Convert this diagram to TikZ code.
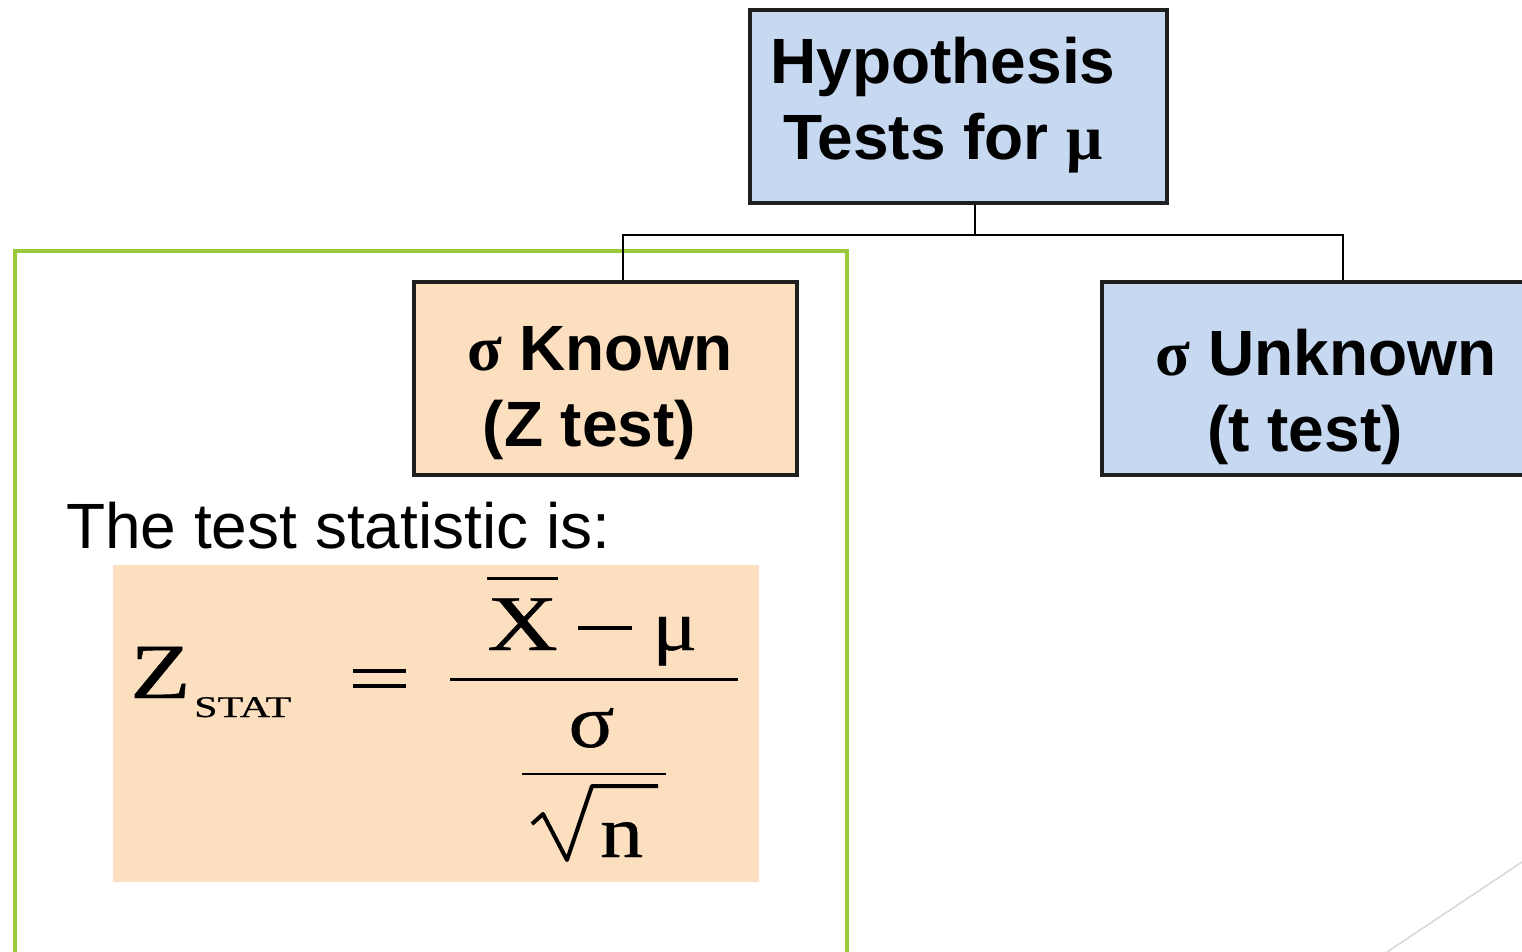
\documentclass[tikz,border=0pt]{standalone}
\usepackage{fontspec}
\usepackage{graphicx}
\setmainfont{Liberation Sans}
\newfontfamily\symfont{Liberation Serif}
\newfontfamily\formfont[FakeBold=0.5]{Liberation Serif}
\definecolor{boxblue}{RGB}{198,217,241}
\definecolor{boxpeach}{RGB}{252,223,191}
\definecolor{framegreen}{RGB}{154,202,60}
\definecolor{diaggray}{RGB}{215,215,215}
\newcommand{\wideglyph}[2][1.3]{\scalebox{#1}[1]{#2}}

\begin{document}
\begin{tikzpicture}[x=1pt, y=-1pt,
    testbox/.style={draw=black!88, line width=4pt, inner sep=0pt, minimum height=193pt},
    boxtext/.style={align=center, inner sep=0pt, font=\bfseries\fontsize{64}{76}\selectfont},
    formula/.style={anchor=base west, inner sep=0pt}]
    \useasboundingbox (0,0) rectangle (1522,952);
    \clip (0,0) rectangle (1522,952);

    % green frame round the known case
    \draw[framegreen, line width=4.5pt] (847,960) -- (847,251) -- (15,251) -- (15,960);

    % boxes
    \node[testbox, fill=boxblue, minimum width=417pt] (hyp) at (958.5,106.5) {};
    \node[testbox, fill=boxpeach, minimum width=383pt] (known) at (605.5,378.5) {};
    \node[testbox, fill=boxblue, minimum width=440pt] (unknown) at (1322,378.5) {};

    \node[boxtext] (hyptext) at (943,105) {Hypothesis\\Tests for {\symfont μ}};
    \node[boxtext] (knowntext) at (600,393.5) {{\symfont σ} Known\\(Z test)\hspace*{21pt}};
    \node[boxtext] (unknowntext) at (1326,396.5) {{\symfont σ} Unknown\\(t test)\hspace*{42pt}};

    % tree lines
    \coordinate (split) at (975,235);
    \coordinate (lknee) at (623,235);
    \coordinate (rknee) at (1343,235);
    \draw[line width=2pt] (hyp.south -| split) -- (split);
    \draw[line width=2pt] (known.north -| lknee) -- (lknee) -- (rknee) -- (unknown.north -| rknee);

    % test statistic
    \node[anchor=base west, inner sep=0pt, font=\fontsize{64}{76}\selectfont] (statlabel) at (66,548) {The test statistic is:};
    \fill[boxpeach] (113,565) rectangle (759,882);

    \node[formula, font=\formfont\fontsize{78}{78}\selectfont] (zsym) at (130,698) {\wideglyph[1.27]{Z}};
    \node[formula, font=\formfont\fontsize{30}{30}\selectfont] (statsub) at (194,717) {\wideglyph[1.4]{STAT}};
    \draw[line width=4pt] (353,671) -- (406,671);
    \draw[line width=4pt] (353,686) -- (406,686);
    \node[formula, font=\formfont\fontsize{79}{79}\selectfont] (xsym) at (487,650) {\wideglyph[1.24]{X}};
    \draw[line width=3pt] ([yshift=20pt]xsym.north west) -- ([yshift=20pt]xsym.north east);
    \draw[line width=3.5pt] (578,628) -- (632,628);
    \node[formula, font=\formfont\fontsize{72}{72}\selectfont] (musym) at (652,650) {\wideglyph[1.17]{μ}};
    \draw[line width=3pt] (450,679) -- (738,679);
    \node[anchor=base, inner sep=0pt, font=\formfont\fontsize{76}{76}\selectfont] (sigsym) at (591.5,747) {\wideglyph[1.12]{σ}};
    \draw[line width=2.5pt] (522,774) -- (666,774);
    \draw[line width=4pt, line join=round] (532,824) -- (543,814) -- (567,860) -- (592,786) -- (658,786);
    \node[formula, font=\formfont\fontsize{74}{74}\selectfont] (nsym) at (600,857) {\wideglyph[1.16]{n}};

    % corner line
    \draw[diaggray, line width=1.5pt] (1387,952) -- (1522,862);
\end{tikzpicture}
\end{document}
